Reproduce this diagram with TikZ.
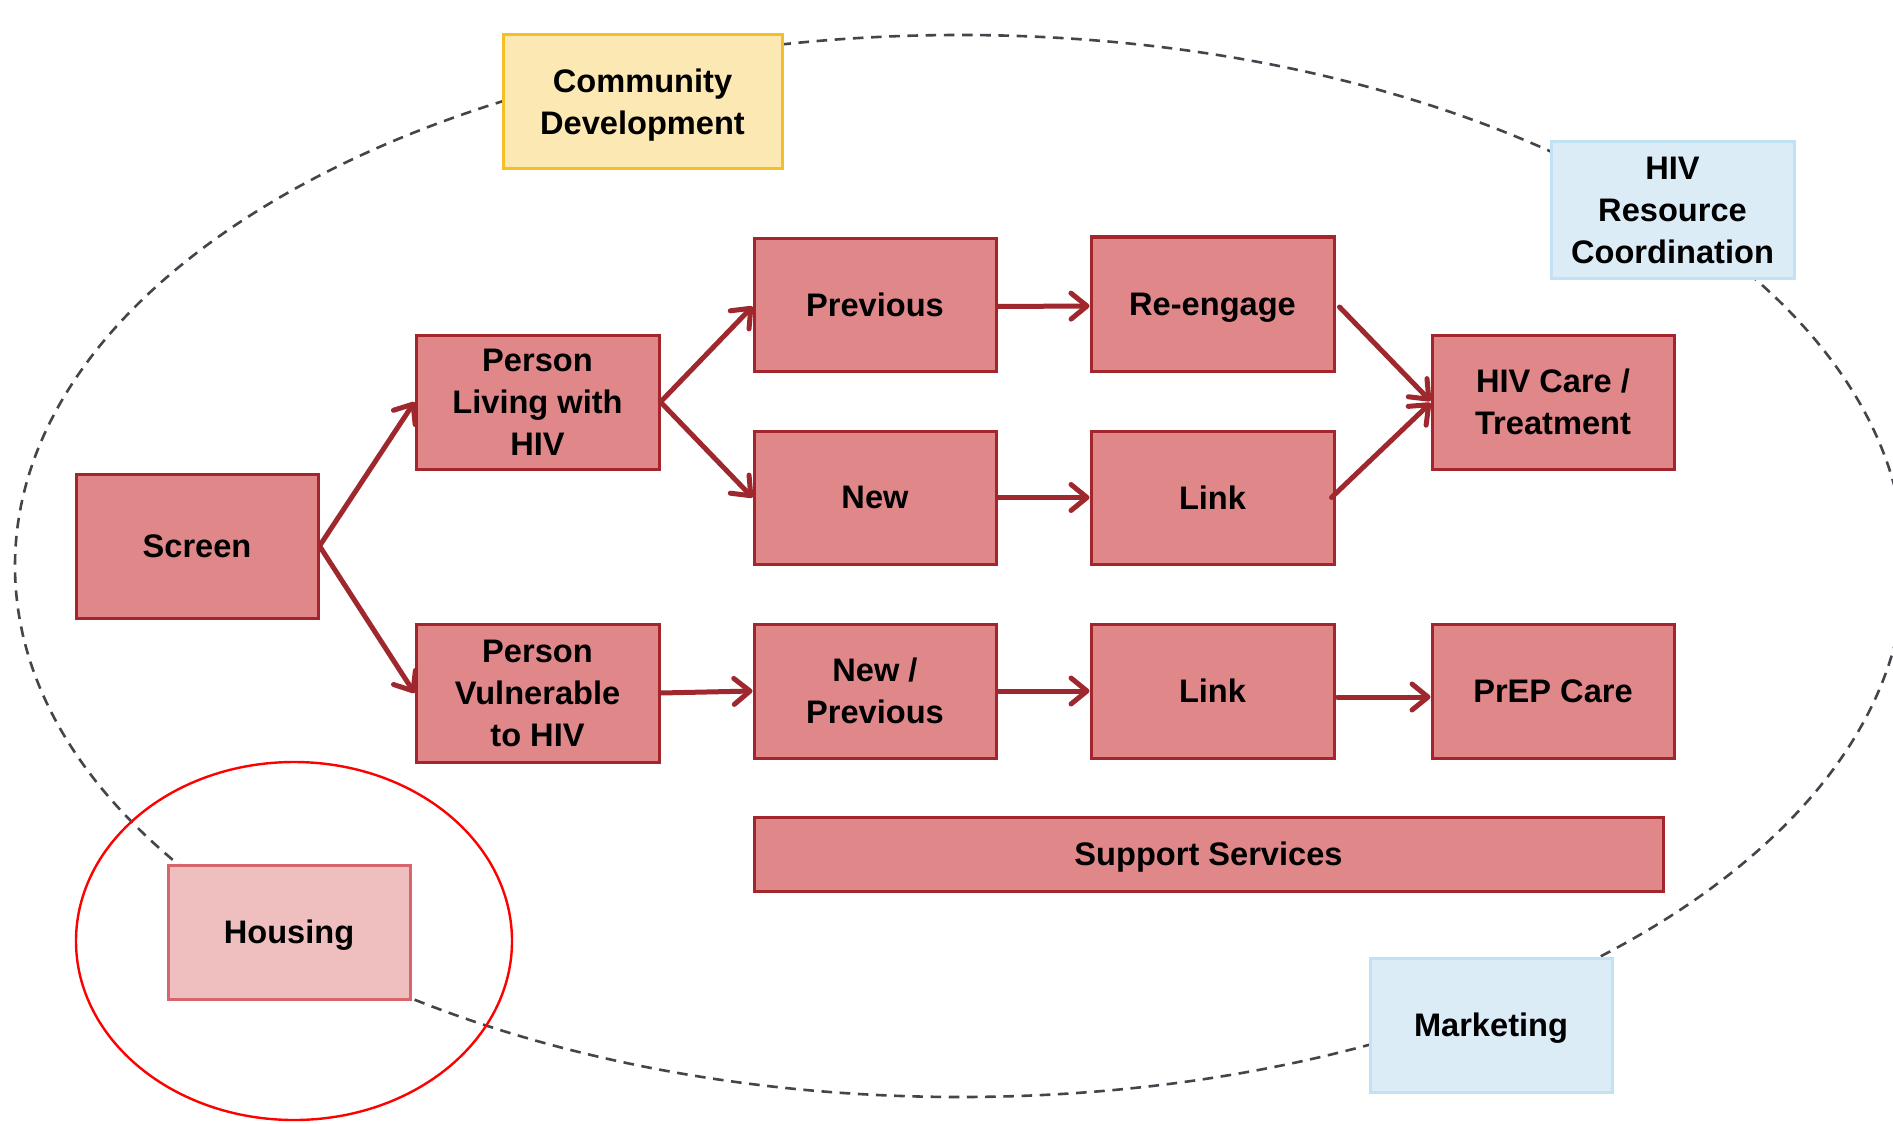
\documentclass[tikz,border=0pt]{standalone}
\usepackage{fontspec}
\setmainfont{Liberation Sans}
\usetikzlibrary{arrows.meta}
\definecolor{boxfill}{RGB}{224,135,138}
\definecolor{boxdraw}{RGB}{163,38,44}
\definecolor{arrowred}{RGB}{158,40,46}
\definecolor{yelfill}{RGB}{252,232,178}
\definecolor{yeldraw}{RGB}{246,190,38}
\definecolor{bluefill}{RGB}{220,236,247}
\definecolor{bluedraw}{RGB}{194,225,245}
\definecolor{housefill}{RGB}{239,191,192}
\definecolor{housedraw}{RGB}{214,102,108}
\definecolor{dashgrey}{RGB}{66,70,76}
\newcommand\mybox[6]{\node[#1, minimum width=#4*0.5pt, minimum height=#5*0.5pt] (#2) at (#3) {#6};}
\begin{document}
\begin{tikzpicture}[x=0.5pt,y=-0.5pt,
  base/.style={draw, line width=1.5pt, font=\fontsize{16.3}{21}\selectfont\bfseries, align=center, inner sep=0pt, text depth=0pt, text=black},
  redbox/.style={base, fill=boxfill, draw=boxdraw},
  yelbox/.style={base, fill=yelfill, draw=yeldraw},
  bluebox/.style={base, fill=bluefill, draw=bluedraw},
  housebox/.style={base, fill=housefill, draw=housedraw},
  arr/.style={draw=arrowred, line width=2.5pt, line cap=round, -{Straight Barb[length=8pt,width=13pt,line width=2.5pt,round]}}
]
\useasboundingbox (0,0) rectangle (1893,1123);
\fill[white] (0,0) rectangle (1893,1123);
% dashed cycle
\draw[dashgrey, line width=1.3pt, dash pattern=on 5.3pt off 3.8pt] (960,566) ellipse [x radius=945, y radius=531];
% red circle
\draw[red, line width=1.2pt] (294,941) ellipse [x radius=218, y radius=179];
% peripheral boxes
\mybox{yelbox}{comm}{642.5,102}{279}{134}{Community\\Development}
\mybox{bluebox}{hivres}{1672.5,210}{243}{136}{HIV\\Resource\\Coordination}
\mybox{housebox}{housing}{289,932}{242}{134}{Housing}
\mybox{bluebox}{marketing}{1491,1025}{242}{134}{Marketing}
% main flow
\mybox{redbox}{screen}{197,546}{242}{144}{Screen}
\mybox{redbox}{plwh}{537.5,402}{243}{134}{Person\\Living with\\HIV}
\mybox{redbox}{pvh}{537.5,693}{243}{138}{Person\\Vulnerable\\to HIV}
\mybox{redbox}{prev}{875,304.5}{242}{133}{Previous}
\mybox{redbox}{new}{875,497.5}{242}{133}{New}
\mybox{redbox}{newprev}{875,691}{242}{134}{New /\\Previous}
\mybox{redbox}{reeng}{1212.5,304}{243}{134}{Re-engage}
\mybox{redbox}{linka}{1212.5,497.5}{243}{133}{Link}
\mybox{redbox}{linkb}{1212.5,691}{243}{134}{Link}
\mybox{redbox}{care}{1553,402}{242}{134}{HIV Care /\\Treatment}
\mybox{redbox}{prep}{1553,691}{242}{134}{PrEP Care}
\mybox{redbox}{support}{1208.5,854}{909}{74}{Support Services}
% arrows
\draw[arr] (screen.east) -- (plwh.west);
\draw[arr] (screen.east) -- (pvh.west);
\draw[arr] (plwh.east) -- ([yshift=-1pt]prev.west);
\draw[arr] (plwh.east) -- (new.west);
\draw[arr] ([yshift=-1pt]prev.east) -- ([yshift=-1pt]reeng.west);
\draw[arr] (new.east) -- (linka.west);
\draw[arr] ([xshift=2pt,yshift=-1.5pt]reeng.east) -- ([yshift=0.5pt]care.west);
\draw[arr] ([xshift=-2pt]linka.east) -- ([yshift=-0.5pt]care.west);
\draw[arr] (pvh.east) -- (newprev.west);
\draw[arr] (newprev.east) -- (linkb.west);
\draw[arr] ([xshift=1pt,yshift=-3pt]linkb.east) -- ([yshift=-3pt]prep.west);
\end{tikzpicture}
\end{document}
